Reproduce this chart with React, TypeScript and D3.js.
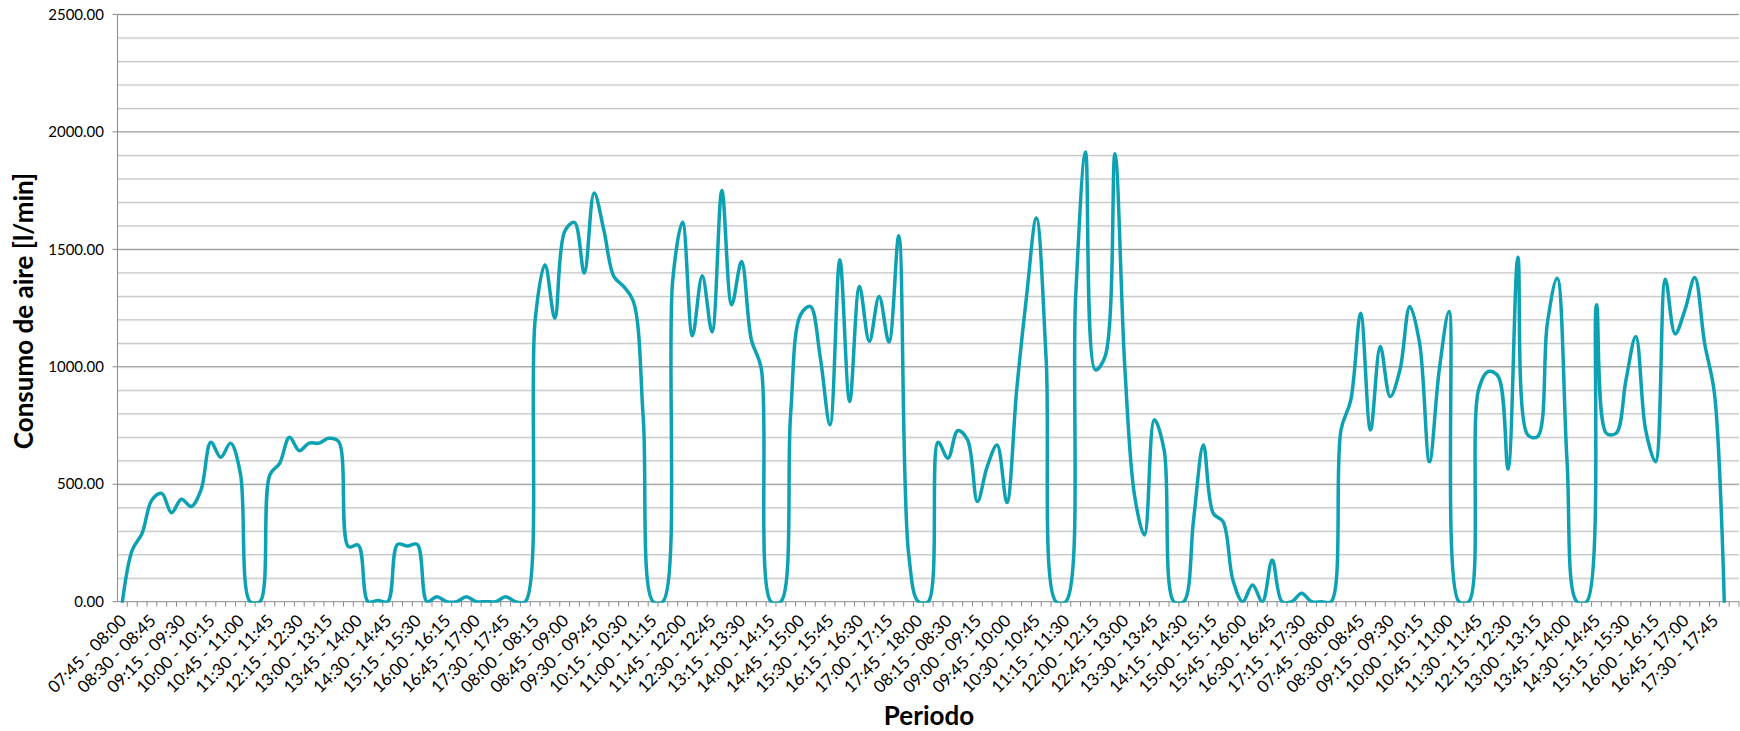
import React, { useEffect } from 'react';
import * as d3 from 'd3';

// air consumption per 15-min slot, one array per measured day (07:45 - 18:00)
const day1 = [0, 220, 291, 433, 461, 379, 436, 405, 476, 679, 615, 675, 547, 0, 0, 540, 589, 700, 643, 675,
  675, 696, 682, 234, 241, 0, 5, 0, 244, 237, 244, 0, 21, 0, 0, 21, 0, 0, 0, 21, 0];
const day2 = [0, 1200, 1434, 1207, 1576, 1615, 1399, 1740, 1580, 1385, 1342, 1278, 780, 0, 0, 1370, 1615, 1132, 1387, 1148,
  1750, 1264, 1448, 1115, 994, 0, 0, 802, 1221, 1257, 1044, 753, 1456, 852, 1342, 1108, 1299, 1105, 1558, 206, 0];
const day3 = [0, 679, 611, 728, 689, 426, 575, 667, 422, 902, 1299, 1633, 1030, 0, 0, 1300, 1914, 987, 1044, 1907,
  1000, 450, 284, 775, 646, 0, 0, 350, 667, 376, 341, 92, 0, 71, 0, 178, 0, 0, 36, 0, 0];
const day4 = [0, 731, 859, 1228, 731, 1086, 873, 987, 1257, 1100, 596, 987, 1235, 0, 0, 902, 980, 959, 564, 1466,
  710, 703, 1186, 1377, 600, 0, 0, 1264, 717, 717, 944, 1129, 731, 596, 1373, 1140, 1242, 1380, 1100, 887, 0];

const yTicks = [0, 500, 1000, 1500, 2000, 2500];
const yMinor = d3.range(0, 2501, 100);

const W = 1740;
const H = 731;
const m = { left: 117.5, right: 1739, top: 14.4, bottom: 601.7 };

const fmt = (min: number) => {
  const h = Math.floor(min / 60);
  const mm = min % 60;
  return `${String(h).padStart(2, '0')}:${String(mm).padStart(2, '0')}`;
};

// slot labels "hh:mm - hh:mm", 41 per day starting 07:45
const slotLabels = day1.map((_, k) => {
  const s = 7 * 60 + 45 + k * 15;
  return `${fmt(s)} - ${fmt(s + 15)}`;
});

const values: (number | null)[] = [...day1, ...day2, ...day3, ...day4, null];
const categories = values.map((_, i) => (i < 164 ? slotLabels[i % 41] : '18:00 - 18:15') + '#' + i);

const font = "Lato, 'Open Sans', sans-serif";
const lineColor = '#0ca2b3';

export default function App() {
  useEffect(() => {
    document.body.style.margin = '0';
  }, []);

  const x = d3.scaleBand().domain(categories).range([m.left, m.right]);
  const y = d3.scaleLinear().domain([0, 2500]).range([m.bottom, m.top]);
  const cx = (i: number) => (x(categories[i]) as number) + x.bandwidth() / 2;

  const pts = values.map((v, i) => ({ v, i }));
  const line = d3
    .line<{ v: number | null; i: number }>()
    .defined(d => d.v != null)
    .x(d => cx(d.i))
    .y(d => y(d.v as number))
    .curve(d3.curveCatmullRom.alpha(0.5));

  return (
    <svg width={W} height={H} style={{ display: 'block', background: '#fff' }}>
      <defs>
        <clipPath id="plot">
          <rect x={m.left} y={0} width={m.right - m.left} height={m.bottom + 1} />
        </clipPath>
      </defs>

      {/* gridlines */}
      {yMinor.filter(v => v > 0).map(v => (
        <g key={v}>
          <line x1={m.left} x2={m.right} y1={y(v) + 1} y2={y(v) + 1} stroke="#ececec" />
          <line x1={m.left} x2={m.right} y1={y(v)} y2={y(v)}
            stroke={v % 500 === 0 ? '#8a8a8a' : '#c0c0c0'} strokeWidth={1} />
        </g>
      ))}

      {/* y axis */}
      <line x1={m.left} x2={m.left} y1={m.top} y2={m.bottom} stroke="#8a8a8a" />
      {yTicks.map(v => (
        <g key={v}>
          <line x1={m.left - 5} x2={m.left} y1={y(v)} y2={y(v)} stroke="#8a8a8a" />
          <text x={104} y={y(v)} dy="0.35em" textAnchor="end" fontFamily={font} fontSize={15} fill="#000">
            {v.toFixed(2)}
          </text>
        </g>
      ))}

      {/* x axis */}
      <line x1={m.left} x2={m.right} y1={m.bottom} y2={m.bottom} stroke="#8a8a8a" />
      {categories.map(c => (
        <line key={c} x1={(x(c) as number) + x.bandwidth()} x2={(x(c) as number) + x.bandwidth()}
          y1={m.bottom} y2={m.bottom + 5} stroke="#8a8a8a" />
      ))}
      {categories.map((c, i) =>
        i % 3 === 0 && i < 164 ? (
          <text key={'l' + c} transform={`translate(${cx(i) + 5},${m.bottom + 20}) rotate(-45)`}
            textAnchor="end" fontFamily={font} fontSize={17} fill="#000">
            {c.split('#')[0]}
          </text>
        ) : null
      )}

      {/* series */}
      <path d={line(pts) || ''} fill="none" stroke={lineColor} strokeWidth={3.5}
        strokeLinejoin="round" strokeLinecap="round" clipPath="url(#plot)" />

      {/* titles */}
      <text transform={`translate(33,311) rotate(-90)`} textAnchor="middle" fontFamily={font}
        fontWeight="bold" fontSize={26} fill="#000">
        Consumo de aire [l/min]
      </text>
      <text x={929} y={725} textAnchor="middle" fontFamily={font} fontWeight="bold" fontSize={26} fill="#000">
        Periodo
      </text>
    </svg>
  );
}
